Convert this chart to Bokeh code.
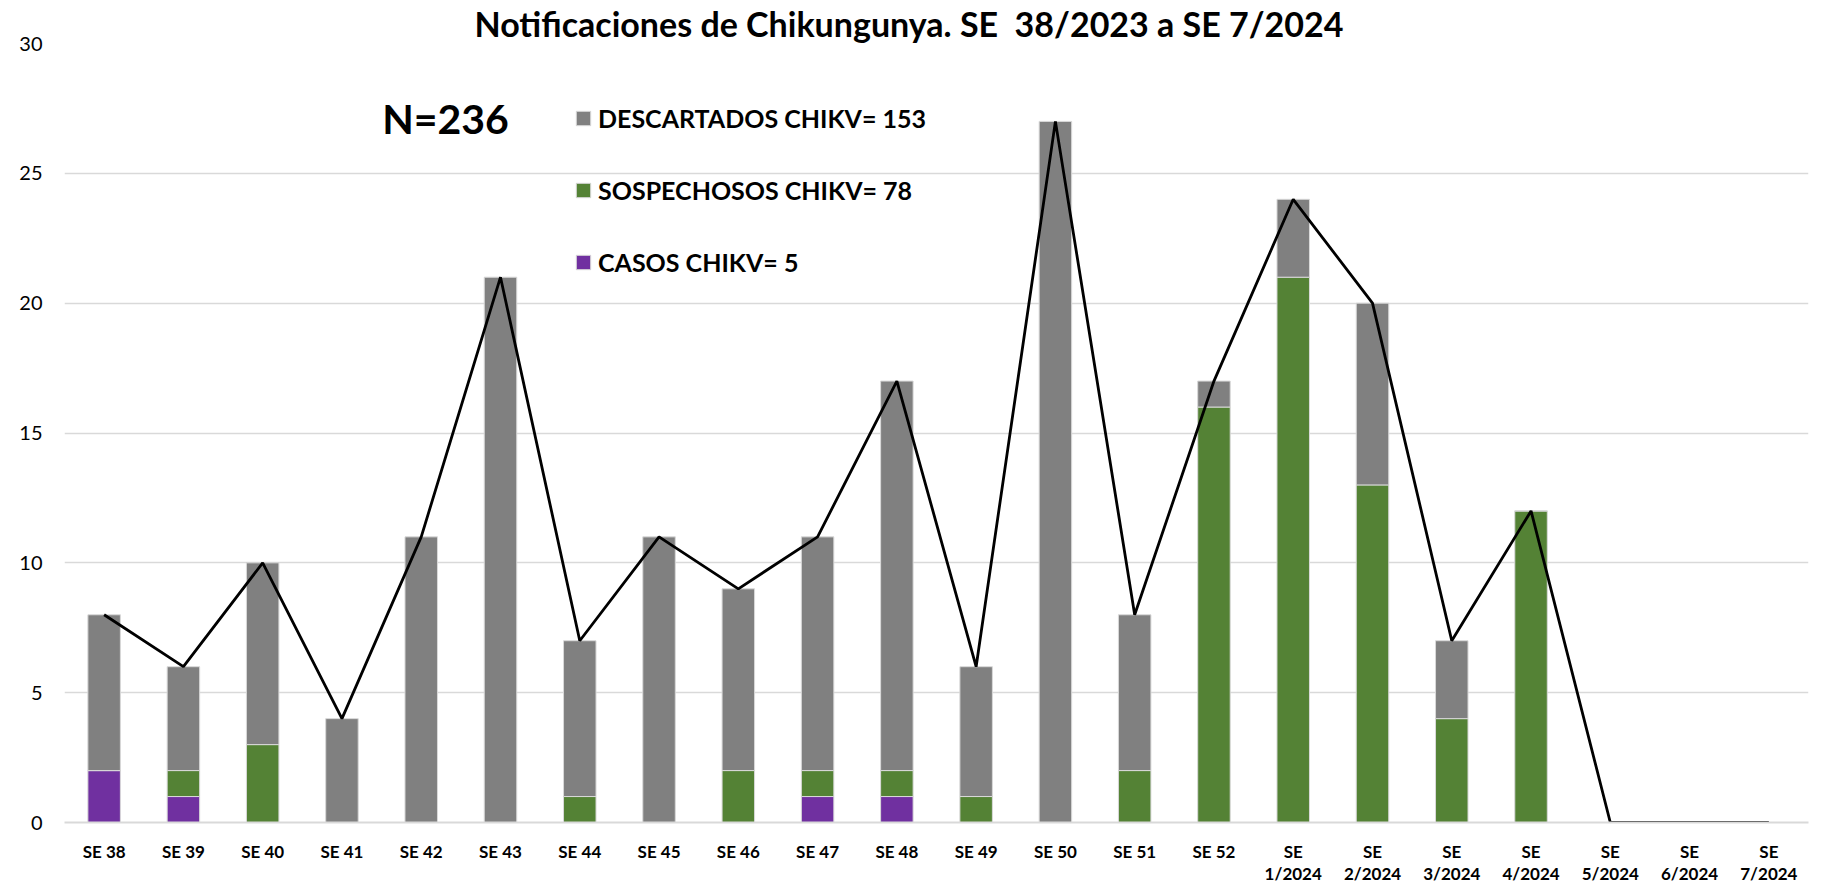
from bokeh.plotting import figure
from bokeh.models import FactorRange, Range1d, Label, Legend, LegendItem, ColumnDataSource
from bokeh.embed import file_html
from bokeh.resources import INLINE

weeks = ["SE 38", "SE 39", "SE 40", "SE 41", "SE 42", "SE 43", "SE 44", "SE 45", "SE 46",
         "SE 47", "SE 48", "SE 49", "SE 50", "SE 51", "SE 52", "SE\n1/2024", "SE\n2/2024",
         "SE\n3/2024", "SE\n4/2024", "SE\n5/2024", "SE\n6/2024", "SE\n7/2024"]
casos = [2, 1, 0, 0, 0, 0, 0, 0, 0, 1, 1, 0, 0, 0, 0, 0, 0, 0, 0, 0, 0, 0]
sospechosos = [0, 1, 3, 0, 0, 0, 1, 0, 2, 1, 1, 1, 0, 2, 16, 21, 13, 4, 12, 0, 0, 0]
descartados = [6, 4, 7, 4, 11, 21, 6, 11, 7, 9, 15, 5, 27, 6, 1, 3, 7, 3, 0, 0, 0, 0]
totales = [c + s + d for c, s, d in zip(casos, sospechosos, descartados)]

title_text = "Notificaciones de Chikungunya. SE\u00a0 38/2023 a SE 7/2024"
n_text = "N=" + str(sum(totales))
lab_desc = "DESCARTADOS CHIKV= " + str(sum(descartados))
lab_sosp = "SOSPECHOSOS CHIKV= " + str(sum(sospechosos))
lab_casos = "CASOS CHIKV= " + str(sum(casos))

src = ColumnDataSource(dict(week=weeks, casos=casos, sosp=sospechosos, desc=descartados, total=totales))

FONT = "Lato"

p = figure(width=1822, height=886, output_backend="svg", toolbar_location=None,
           x_range=FactorRange(*weeks, range_padding=0), y_range=Range1d(0, 30),
           min_border_left=64, min_border_right=14, min_border_top=43, min_border_bottom=64)
p.outline_line_color = None
p.background_fill_color = "white"
p.border_fill_color = "white"

p.title.text = title_text
p.title.align = "left"
p.title.offset = 410
p.title.standoff = 0
p.title.text_font = FONT
p.title.text_font_style = "bold"
p.title.text_font_size = "34px"
p.title.text_color = "black"

renderers = p.vbar_stack(["casos", "sosp", "desc"], x="week", width=0.41, source=src,
                         color=["#7030A0", "#548235", "#808080"],
                         line_color="#D9D9D9", line_width=1)
p.line(x="week", y="total", source=src, line_color="black", line_width=2.8)

legend = Legend(items=[LegendItem(label=lab_desc, renderers=[renderers[2]]),
                       LegendItem(label=lab_sosp, renderers=[renderers[1]]),
                       LegendItem(label=lab_casos, renderers=[renderers[0]])],
                location=(510, 545), orientation="vertical")
legend.glyph_width = 18
legend.glyph_height = 18
legend.label_height = 30
legend.spacing = 42
legend.padding = 0
legend.margin = 0
legend.label_standoff = 6
legend.border_line_alpha = 0
legend.background_fill_alpha = 0
legend.label_text_font = FONT
legend.label_text_font_style = "bold"
legend.label_text_font_size = "25px"
legend.label_text_color = "black"
legend.label_text_baseline = "middle"
p.add_layout(legend)

p.xgrid.grid_line_color = None
p.ygrid.grid_line_color = "#D9D9D9"
p.ygrid.grid_line_width = 1.5
p.yaxis.ticker = [0, 5, 10, 15, 20, 25, 30]
p.yaxis.axis_line_color = None
p.yaxis.major_tick_line_color = None
p.yaxis.minor_tick_line_color = None
p.yaxis.major_tick_out = 0
p.yaxis.major_tick_in = 0
p.yaxis.minor_tick_out = 0
p.yaxis.major_label_standoff = 22
p.yaxis.major_label_text_font = FONT
p.yaxis.major_label_text_font_size = "20px"
p.yaxis.major_label_text_color = "black"

p.xaxis.axis_line_color = "#D9D9D9"
p.xaxis.axis_line_width = 2
p.xaxis.major_tick_line_color = None
p.xaxis.major_tick_out = 0
p.xaxis.major_tick_in = 0
p.xaxis.major_label_standoff = 18
p.xaxis.major_label_text_font = FONT
p.xaxis.major_label_text_font_style = "bold"
p.xaxis.major_label_text_font_size = "17px"
p.xaxis.major_label_text_color = "black"
p.xaxis.major_label_text_line_height = 1.05

p.add_layout(Label(x=381, y=704, x_units="screen", y_units="screen", text=n_text,
                   text_font=FONT, text_font_style="bold", text_font_size="41px",
                   text_align="center", text_baseline="middle", text_color="black"))

open("out.html", "w").write(file_html(p, INLINE))
